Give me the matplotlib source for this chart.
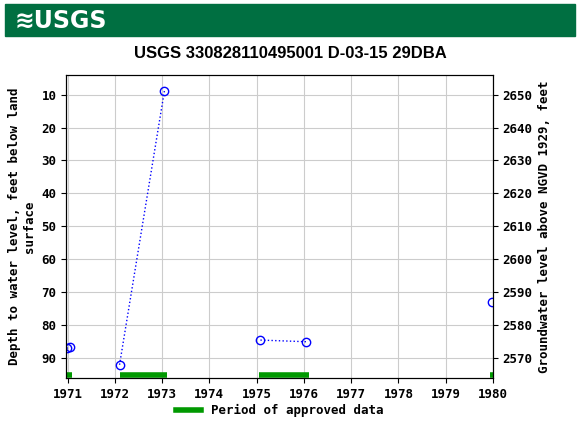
import matplotlib
matplotlib.use("Agg")
import matplotlib.pyplot as plt
from matplotlib.patches import Rectangle

years = [1970.98, 1971.05, 1972.1, 1973.05, 1975.08, 1976.05, 1979.97]
depths = [87.0, 86.5, 92.0, 8.8, 84.5, 85.0, 73.0]
segments = [(0, 2), (2, 4), (4, 6), (6, 7)]
approved = [(1970.97, 1971.1), (1972.1, 1973.1), (1975.05, 1976.1), (1979.93, 1980.0)]
offset = 2660.0

fig = plt.figure(figsize=(5.8, 4.3), dpi=100)
fig.patches.append(Rectangle((0.008, 0.916), 0.984, 0.075, transform=fig.transFigure,
                             color="#006F41", zorder=0))
fig.text(0.025, 0.952, "≋USGS", color="white", fontsize=17, fontweight="bold",
         va="center", family="DejaVu Sans")
fig.text(0.5, 0.876, "USGS 330828110495001 D-03-15 29DBA", ha="center", va="center",
         fontsize=12, fontweight="bold", family="Liberation Sans")

ax = fig.add_axes([0.114, 0.121, 0.736, 0.705])
for a, b in segments:
    ax.plot(years[a:b], depths[a:b], ":", color="blue", lw=1)
    ax.plot(years[a:b], depths[a:b], "o", mfc="none", mec="blue", ms=6, mew=1)
for s, e in approved:
    ax.plot([s, e], [95, 95], color="#009900", lw=4, solid_capstyle="butt")
ax.set_xlim(1970.97, 1980.0)
ax.set_ylim(96, 4)
ax.set_xticks(range(1971, 1981))
ax.set_yticks(range(10, 91, 10))
ax.grid(True, color="#cccccc", lw=0.8)
mono = "DejaVu Sans Mono"
fp = dict(family=mono, fontsize=9, fontweight="bold")
for lab in ax.get_xticklabels() + ax.get_yticklabels():
    lab.set(**fp)
ax.set_ylabel("Depth to water level, feet below land\nsurface", **fp)
ax2 = ax.twinx()
ax2.set_ylim(offset - 96, offset - 4)
ax2.set_yticks(range(2570, 2651, 10))
for lab in ax2.get_yticklabels():
    lab.set(**fp)
ax2.set_ylabel("Groundwater level above NGVD 1929, feet", **fp)

ax.plot([], [], color="#009900", lw=4, label="Period of approved data")
ax.legend(loc="upper center", bbox_to_anchor=(0.5, -0.05), frameon=False,
          prop={"family": mono, "size": 9, "weight": "bold"}, handlelength=2)
fig.savefig("out.png", dpi=100)
